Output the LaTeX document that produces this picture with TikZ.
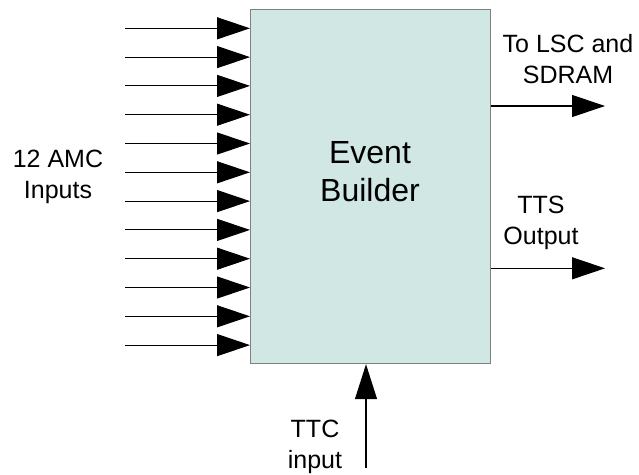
\documentclass[tikz,border=0pt]{standalone}
\usepackage{fontspec}
\setmainfont{Liberation Sans}
\usetikzlibrary{arrows.meta}
\definecolor{boxfill}{RGB}{208,231,228}
\definecolor{boxline}{RGB}{128,128,128}
\tikzset{
  blockbox/.style={draw=boxline, fill=boxfill, line width=1.2pt, inner sep=0pt},
  sig/.style={line width=1.1pt, -{Triangle[length=33pt,width=22pt]}},
  lbl/.style={align=center, inner sep=0pt, font=\fontsize{25}{31}\selectfont},
}
\begin{document}
\begin{tikzpicture}[x=1pt, y=-1pt]
  \useasboundingbox (0,0) rectangle (639,474);

  % central block
  \node[blockbox, minimum width=240pt, minimum height=354pt, anchor=north west] (eb) at (250,9) {};
  \node[align=center, inner sep=0pt, font=\fontsize{32}{38}\selectfont] (ebtext) at (370,171.5) {Event\\Builder};

  % twelve AMC input lines
  \foreach \i in {0,...,11} {
    \coordinate (in\i) at (125,{28.3+28.8*\i});
    \draw[sig] (in\i) -- (in\i -| eb.west);
  }
  \node[lbl] (amc) at (58,177) {12 AMC\\Inputs};

  % outputs
  \coordinate (lsc) at (605,106);
  \coordinate (tts) at (605,268.3);
  \draw[sig] (lsc -| eb.east) -- (lsc);
  \draw[sig] (tts -| eb.east) -- (tts);
  \node[lbl] (lsctext) at (568,59) {To LSC and\\SDRAM};
  \node[lbl] (ttstext) at (541,223) {TTS\\Output};

  % TTC input from below
  \coordinate (ttc) at (366,468);
  \draw[line width=1.1pt, -{Triangle[length=35pt,width=22pt]}] (ttc) -- (ttc |- eb.south);
  \node[lbl] (ttctext) at (315,446.5) {TTC\\input};
\end{tikzpicture}
\end{document}
